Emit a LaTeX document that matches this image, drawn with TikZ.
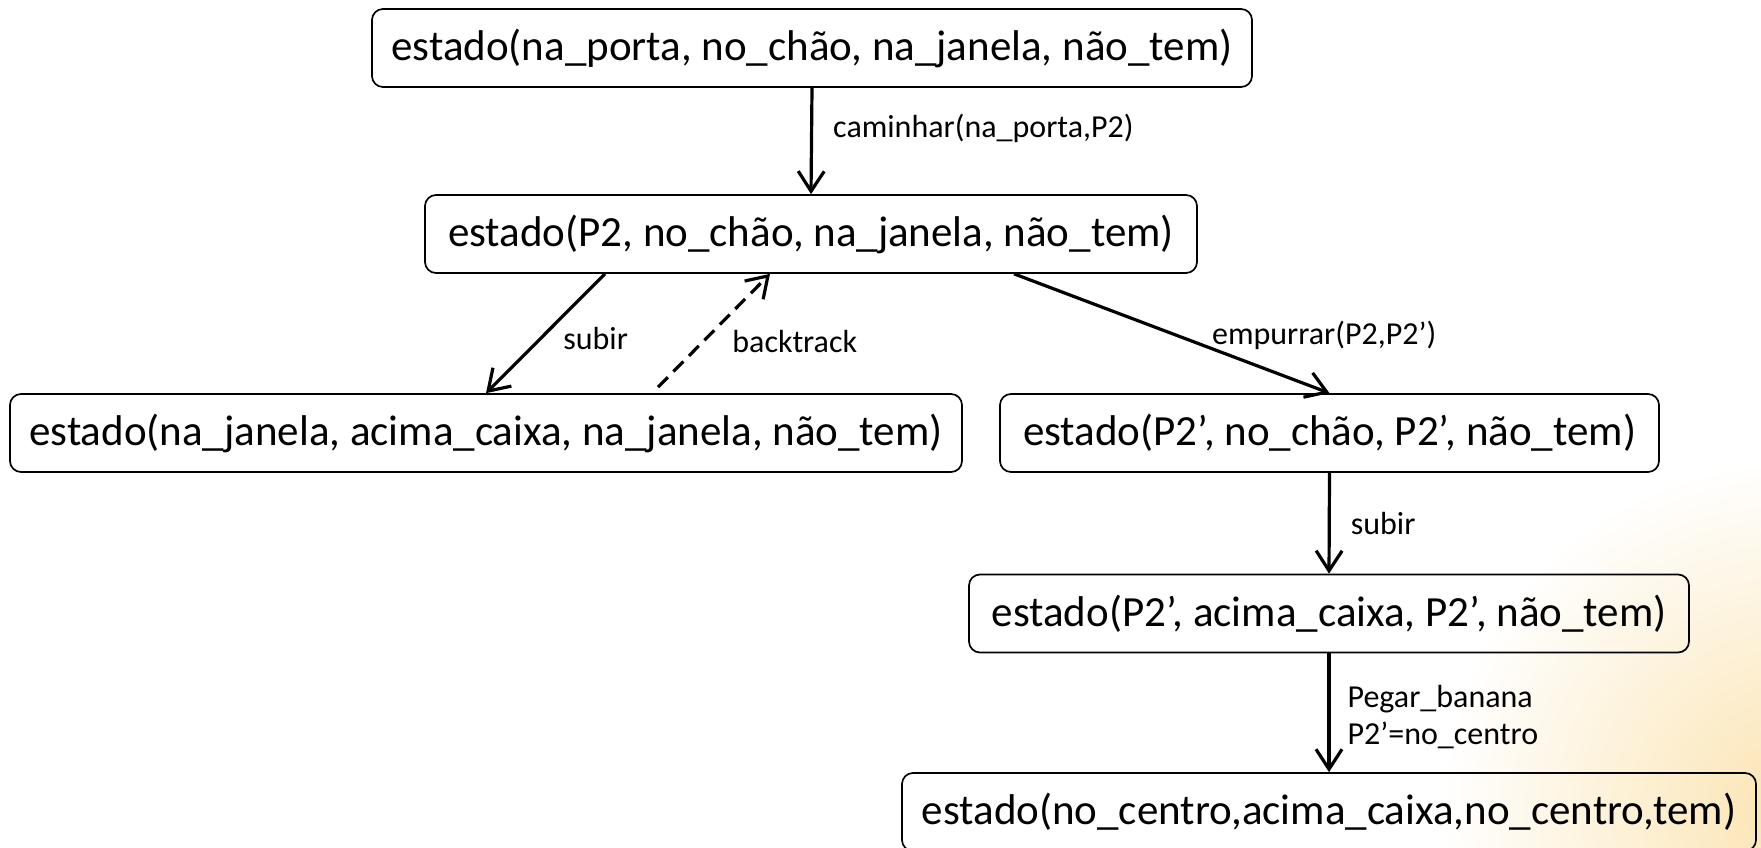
\documentclass[tikz,border=0pt]{standalone}
\usepackage{fontspec}
\setmainfont{Carlito}
\usetikzlibrary{arrows.meta,positioning}
\begin{document}
\begin{tikzpicture}[x=1pt, y=-1pt,
    estado/.style = {draw, rounded corners=11pt, line width=1.7pt, minimum height=78pt,
                     font=\fontsize{43}{50}\selectfont},
    acao/.style   = {inner sep=4pt, font=\fontsize{32}{37}\selectfont},
    seta/.style   = {line width=3.2pt, -{Straight Barb[length=20pt,width=26pt]}}]
        \useasboundingbox (0,0) rectangle (1761,848);
        \begin{scope}
          \clip (0,0) rectangle (1761,848);
          \fill[inner color={rgb,255:red,251;green,228;blue,178}, outer color=white] (1440,460) rectangle (2140,1160);
        \end{scope}
        \node[estado, minimum width=880pt] (inicio)    at ( 812,   48  ) {estado(na\_porta, no\_chão, na\_janela, não\_tem)};
        \node[estado, minimum width=772pt] (p2)        at ( 811,  234  ) {estado(P2, no\_chão, na\_janela, não\_tem)};
        \node[estado, minimum width=952pt] (janela)    at ( 486,  433  ) {estado(na\_janela, acima\_caixa, na\_janela, não\_tem)};
        \node[estado, minimum width=659pt] (empurrado) at (1329.5, 433 ) {estado(P2’, no\_chão, P2’, não\_tem)};
        \node[estado, minimum width=720pt] (acima)     at (1329,  613.5) {estado(P2’, acima\_caixa, P2’, não\_tem)};
        \node[estado, minimum width=854pt] (banana)    at (1329,  812  ) {estado(no\_centro,acima\_caixa,no\_centro,tem)};
        \draw[seta] (inicio.south) -- node[acao, right=16pt, pos=0.38] {caminhar(na\_porta,P2)} (p2.north);
        \draw[seta] ([xshift=-206pt]p2.south) -- node[acao, right=17pt, pos=0.54] {subir} (janela.north);
        \draw[seta, dash pattern=on 14pt off 8pt] ([xshift=172pt, yshift=6pt]janela.north) -- node[acao, right=24pt, pos=0.40] {backtrack} ([xshift=-41pt]p2.south);
        \draw[seta] ([xshift=203pt]p2.south) -- node[acao, anchor=west, pos=0.61, yshift=11pt] {empurrar(P2,P2’)} (empurrado.north);
        \draw[seta] (empurrado.south) -- node[acao, right=16pt, pos=0.5] {subir} (acima.north);
        \draw[seta] (acima.south) -- node[acao, align=left, right=13pt, pos=0.54] {Pegar\_banana\\P2’=no\_centro} (banana.north);
\end{tikzpicture}
\end{document}
